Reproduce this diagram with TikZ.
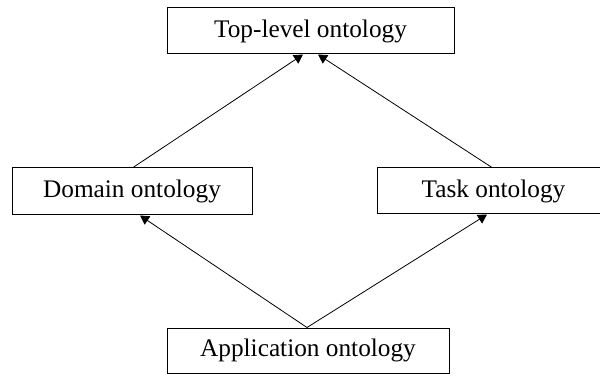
\documentclass[tikz,border=0pt]{standalone}
\usepackage{fontspec}
\setmainfont{Liberation Serif}
\usetikzlibrary{arrows.meta,calc}
\begin{document}
\begin{tikzpicture}[x=1pt,y=-1pt,
  box/.style={draw,line width=1pt,inner sep=0pt,anchor=center,
    font=\fontsize{25.3}{30}\selectfont},
  link/.style={line width=0.8pt,-{Triangle[length=9pt,width=10pt]}}]
\useasboundingbox (0,0) rectangle (600,374);
\clip (0,0) rectangle (600,374);
\node[box,minimum width=287pt,minimum height=46pt] (top) at (310.5,31) {Top-level ontology};
\node[box,minimum width=240pt,minimum height=47pt] (dom) at (132,191.5) {Domain ontology};
\node[box,minimum width=233pt,minimum height=46pt] (task) at (493.5,191) {Task ontology};
\node[box,minimum width=282pt,minimum height=45pt] (app) at (308,350.5) {Application ontology};
\draw[link] ($(dom.north)+(1,0)$) -- ($(top.south)+(-7.5,0)$);
\draw[link] ($(task.north)+(-1.5,0)$) -- ($(top.south)+(7.5,0)$);
\draw[link] ($(app.north)+(-1,0)$) -- ($(dom.south)+(8,0)$);
\draw[link] ($(app.north)+(-1,0)$) -- ($(task.south)+(-6.5,0)$);
\end{tikzpicture}
\end{document}
